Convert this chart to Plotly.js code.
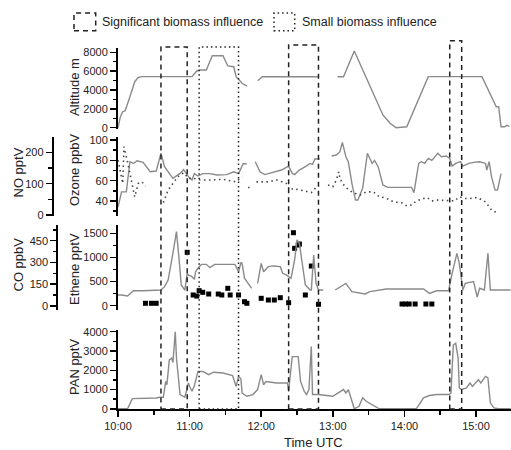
<!DOCTYPE html>
<html><head><meta charset="utf-8">
<script src="https://cdn.plot.ly/plotly-3.0.1.min.js"></script>
<style>html,body{margin:0;padding:0;background:#fff}#chart{width:511px;height:450px}</style>
</head><body><div id="chart"></div>
<script>
// ---------- DATA (times UTC, HH:MM) ----------
const altTime = ['10:00','10:02','10:04','10:06','10:10','10:14','10:17','10:20','11:02','11:06','11:09','11:14','11:19','11:28','11:32','11:37','11:39','11:44','11:48','11:52','11:57','12:01','12:48','12:55','13:04','13:09','13:18','13:42','13:48','13:53','14:02','14:20','15:05','15:13','15:17','15:19','15:21','15:24','15:26','15:28'];
const altValue = [0,1170,1700,1800,3290,4880,5350,5420,5420,6020,6120,6120,7640,7640,6550,6470,5410,4710,4420,null,4990,5400,5400,null,5400,5410,8140,1350,470,0,100,5420,5420,3290,2230,2230,100,100,250,150];

const o3Time = ['10:00','10:03','10:07','10:10','10:13','10:16','10:21','10:27','10:32','10:36','10:39','10:46','10:52','10:55','10:59','11:02','11:04','11:07','11:11','11:17','11:23','11:31','11:37','11:41','11:45','11:48','11:51','11:55','11:59','12:03','12:10','12:17','12:23','12:26','12:28','12:32','12:37','12:41','12:43','12:45','12:49','12:54','12:59','13:03','13:06','13:08','13:11','13:13','13:16','13:19','13:21','13:25','13:29','13:33','13:35','13:38','13:42','13:46','14:06','14:08','14:12','14:14','14:17','14:20','14:23','14:26','14:28','14:31','14:35','14:38','14:40','14:43','14:47','14:49','14:54','14:58','15:03','15:08','15:09','15:11','15:13','15:16','15:18','15:21'];
const o3Value = [34,49,49,78.7,77,79.6,78,68.8,69.5,87,73.8,62.3,67.2,71,64,60.7,67,64.6,67,67,65.6,66,68.8,67,77,76.4,null,78.7,68.8,66,67.9,70.5,74.4,67.2,66,70.5,73.8,77,76,81.3,81.3,null,84.3,85.3,88.5,97.7,83.6,78.7,57.4,41,41,52.5,87,77,80,73.8,55.8,53.5,53.5,48.2,77,78.7,77,82,80,83.6,87,83.6,84.3,82,74.4,77,78.7,74.4,77,78,78.7,77,70.5,78.7,64,50.8,50.8,67];

const noTime = ['10:00','10:01','10:03','10:04','10:05','10:07','10:08','10:14','10:17','10:20','10:23','10:27','10:38','10:42','10:46','10:50','10:55','10:59','11:03','11:10','11:17','11:28','11:39','11:44','11:47','11:49','11:51','11:53','11:56','12:00','12:06','12:13','12:17','12:21','12:24','12:27','12:30','12:38','12:42','12:47','12:51','12:56','13:00','13:03','13:05','13:06','13:08','13:12','13:17','13:23','13:28','13:34','13:39','13:44','13:51','13:58','14:02','14:06','14:10','14:19','14:23','14:27','14:42','14:46','14:51','14:55','15:01','15:08','15:13','15:19'];
const noValue = [175,159,122,101,218,191,170,58,101,106,92,null,40,80,101,122,135,117,117,112,112,114,106,122,null,88,88,null,106,106,106,112,106,101,80,85,82,74,72,92,null,96,90,112,138,117,101,85,71,64,74,74,58,55,42,39,29,32,45,56,45,48,45,58,53,53,56,42,16,5];

const coTime = ['10:00','10:03','10:08','10:13','10:21','10:32','10:36','10:39','10:42','10:46','10:49','10:51','10:53','10:56','10:58','10:59','11:02','11:04','11:05','11:07','11:10','11:14','11:17','11:21','11:28','11:38','11:41','11:43','11:44','11:46','11:52','11:54','11:57','12:00','12:02','12:06','12:10','12:16','12:18','12:21','12:25','12:28','12:30','12:32','12:35','12:37','12:41','12:42','12:44','12:46','12:48','12:52','12:57','13:02','13:11','13:16','13:27','13:31','13:45','14:16','14:21','14:27','14:37','14:40','14:44','14:46','14:49','14:51','14:58','15:01','15:03','15:07','15:10','15:12','15:20','15:29'];
const coValue = [76,76,69,105,105,110,110,133,179,363,512,340,145,110,225,214,202,184,236,260,287,287,264,287,287,287,236,298,294,191,122,null,156,294,236,271,276,271,225,214,191,317,455,432,260,145,110,110,351,156,110,110,null,110,156,99,83,99,117,117,87,105,105,225,363,294,110,156,168,62,122,110,363,110,110,110];

const etheneTime = ['10:23','10:28','10:32','10:58','11:03','11:06','11:08','11:11','11:16','11:24','11:27','11:32','11:34','11:41','11:46','11:48','12:00','12:06','12:11','12:16','12:23','12:27','12:28','12:31','12:32','12:37','12:42','12:48','13:58','14:01','14:04','14:09','14:18','14:23'];
const etheneValue = [50,50,50,1106,222,200,311,277,242,242,222,360,222,222,83,50,153,118,118,166,62,1512,1189,1257,1278,222,822,29,35,35,35,35,35,35];

const panTime = ['10:00','10:08','10:12','10:15','10:32','10:35','10:38','10:40','10:41','10:43','10:45','10:46','10:48','10:49','10:52','10:56','10:59','11:00','11:02','11:04','11:07','11:11','11:16','11:20','11:28','11:36','11:39','11:41','11:43','11:44','11:48','11:53','11:57','12:00','12:02','12:04','12:13','12:22','12:23','12:26','12:31','12:33','12:36','12:38','12:40','12:42','12:43','12:48','13:00','13:09','13:11','13:13','13:17','13:18','13:22','13:25','13:28','13:34','13:39','14:10','14:16','14:21','14:27','14:37','14:39','14:41','14:43','14:45','14:46','14:48','14:52','14:55','14:57','15:02','15:04','15:08','15:10','15:12','15:15','15:19','15:29'];
const panValue = [0,0,530,530,560,600,600,1420,1250,2540,2630,2400,4000,2630,740,600,1340,1160,910,1200,1940,1940,1770,1900,1860,1730,1160,1680,1560,820,650,740,1000,1770,1250,1420,1340,1340,910,2710,2710,1420,910,740,1000,3230,740,740,650,1000,820,1000,220,0,130,570,390,170,0,0,570,690,740,740,800,3310,3400,2630,1080,1000,1080,1340,1160,1510,1340,1680,1600,310,50,0,0];

const boxStart = ['10:36','11:08','12:23','14:38'];
const boxEnd   = ['10:58','11:41','12:48','14:48'];
const boxKind  = ['significant','small','significant','significant'];

const hourTicks = ['10:00','11:00','12:00','13:00','14:00','15:00'];
// ---------------------------------------------

const D = s => '2000-01-01 ' + s;
const FONT = 'Liberation Sans, Arial, sans-serif';
const gray = '#8a8a8a';

const traces = [
  {x: altTime.map(D), y: altValue, xaxis:'x', yaxis:'y', mode:'lines', line:{color:gray, width:1.4}},
  {x: o3Time.map(D), y: o3Value, xaxis:'x', yaxis:'y2', mode:'lines', line:{color:gray, width:1.4}},
  {x: noTime.map(D), y: noValue, xaxis:'x', yaxis:'y3', mode:'lines', line:{color:'#444', width:1.6, dash:'1.5px,3.5px'}},
  {x: coTime.map(D), y: coValue, xaxis:'x', yaxis:'y5', mode:'lines', line:{color:gray, width:1.4}},
  {x: etheneTime.map(D), y: etheneValue, xaxis:'x', yaxis:'y4', mode:'markers', marker:{symbol:'square', size:5, color:'#000'}},
  {x: panTime.map(D), y: panValue, xaxis:'x', yaxis:'y6', mode:'lines', line:{color:gray, width:1.4}}
];

function ax(extra){
  return Object.assign({
    showline:true, linecolor:'#000', linewidth:2,
    ticks:'outside', ticklen:6, tickwidth:1.5, tickcolor:'#000',
    showgrid:false, zeroline:false, fixedrange:true,
    tickfont:{family:FONT, size:11, color:'#222'},
    minor:{ticks:'outside', ticklen:3.5, tickwidth:1.5, tickcolor:'#000', showgrid:false}
  }, extra);
}

const L = 50, W = 461, B = 409, H = 369;
const px = v => (v - L) / W;
const py = v => (B - v) / H;

const layout = {
  width:511, height:450,
  margin:{l:L, r:0, t:40, b:41},
  paper_bgcolor:'#fff', plot_bgcolor:'rgba(0,0,0,0)',
  showlegend:false,
  font:{family:FONT, color:'#222'},
  xaxis: ax({type:'date', domain:[px(118),1], anchor:'y6',
    range:[D('10:00'), D('15:29:20')],
    tickvals: hourTicks.map(D), ticktext: hourTicks,
    minor:{ticks:'outside', ticklen:3.5, tickwidth:1.5, tickcolor:'#000', dtick:1800000, tick0:D('10:00'), showgrid:false}}),
  yaxis: ax({domain:[py(129), py(48)], anchor:'x', range:[-138, 8456], dtick:2000, tick0:0,
    minor:{ticks:'outside', ticklen:3.5, tickwidth:1.5, tickcolor:'#000', dtick:1000, showgrid:false}}),
  yaxis2: ax({domain:[py(215.7), py(137)], anchor:'x', range:[25.6, 103], dtick:20, tick0:0,
    minor:{ticks:'outside', ticklen:3.5, tickwidth:1.5, tickcolor:'#000', dtick:10, showgrid:false}}),
  yaxis3: ax({overlaying:'y2', anchor:'free', position:px(52.7), side:'left', range:[-2, 249], dtick:100, tick0:0,
    minor:{ticks:'outside', ticklen:3.5, tickwidth:1.5, tickcolor:'#000', dtick:50, showgrid:false}}),
  yaxis4: ax({domain:[py(310), py(225)], anchor:'x', range:[-89, 1672], dtick:500, tick0:0,
    minor:{ticks:'outside', ticklen:3.5, tickwidth:1.5, tickcolor:'#000', dtick:250, showgrid:false}}),
  yaxis5: ax({overlaying:'y4', anchor:'free', position:px(57.3), side:'left', range:[-27.6, 558], dtick:150, tick0:0,
    minor:{ticks:'outside', ticklen:3.5, tickwidth:1.5, tickcolor:'#000', dtick:75, showgrid:false}}),
  yaxis6: ax({domain:[0, py(330)], anchor:'x', range:[-10, 4090], dtick:1000, tick0:0,
    minor:{ticks:'outside', ticklen:3.5, tickwidth:1.5, tickcolor:'#000', dtick:500, showgrid:false}}),
  shapes: [],
  annotations: []
};

const boxTop = [py(47), py(47), py(45), py(40.7)];
boxStart.forEach((s,i) => {
  layout.shapes.push({type:'rect', xref:'x', yref:'paper', x0:D(s), x1:D(boxEnd[i]), y0:0, y1:boxTop[i],
    line:{color:'#222', width:1.5, dash: boxKind[i]==='small' ? '1.5px,3px' : '5px,4px'}, fillcolor:'rgba(0,0,0,0)', layer:'above'});
});
// legend icons
layout.shapes.push({type:'rect', xref:'paper', yref:'paper', x0:px(74), x1:px(95.7), y0:py(30.7), y1:py(13),
  line:{color:'#222', width:1.5, dash:'5px,4px'}, fillcolor:'rgba(0,0,0,0)'});
layout.shapes.push({type:'rect', xref:'paper', yref:'paper', x0:px(274), x1:px(294.7), y0:py(30.7), y1:py(13),
  line:{color:'#222', width:1.5, dash:'1.5px,3px'}, fillcolor:'rgba(0,0,0,0)'});

const legendText = [['Significant biomass influence', 100], ['Small biomass influence', 300]];
legendText.forEach(([t, x]) => layout.annotations.push({text:t, xref:'paper', yref:'paper', x:px(x), y:py(22),
  xanchor:'left', yanchor:'middle', showarrow:false, font:{family:FONT, size:12.5, color:'#222'}}));

const axisTitles = [['Altitude m', 74, 87], ['Ozone ppbV', 74, 170], ['NO pptV', 17.5, 173], ['CO ppbV', 17.5, 265], ['Ethene pptV', 74, 269], ['PAN pptV', 74, 367]];
axisTitles.forEach(([t, x, y]) => layout.annotations.push({text:t, xref:'paper', yref:'paper', x:px(x), y:py(y),
  xanchor:'center', yanchor:'middle', textangle:-90, showarrow:false, font:{family:FONT, size:13, color:'#222'}}));
layout.annotations.push({text:'Time UTC', xref:'paper', yref:'paper', x:px(313), y:py(442), xanchor:'center', yanchor:'middle',
  showarrow:false, font:{family:FONT, size:13, color:'#222'}});

Plotly.newPlot('chart', traces, layout, {staticPlot:true, displayModeBar:false});
</script></body></html>
